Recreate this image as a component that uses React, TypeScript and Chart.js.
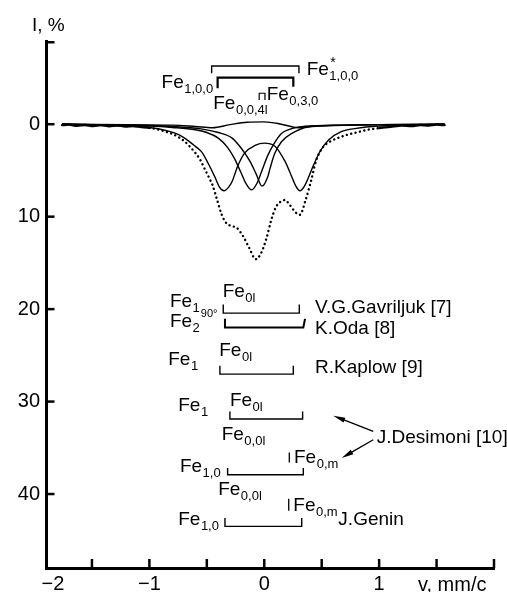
import React, { useEffect, useRef } from 'react';
import { Chart, registerables } from 'chart.js';

Chart.register(...registerables);

const FONT = '"Liberation Sans", Arial, Helvetica, sans-serif';

// Experimental spectrum (dotted): [velocity mm/c, I %]
const EXPERIMENT: [number, number][] = [
  [-1.76, 0.1], [-1.7, 0.05], [-1.63, 0.18], [-1.56, 0.08], [-1.49, 0.2], [-1.42, 0.1],
  [-1.35, 0.22], [-1.28, 0.12], [-1.21, 0.25], [-1.14, 0.2], [-1.07, 0.3], [-1.0, 0.4],
  [-0.93, 0.55], [-0.86, 0.8], [-0.8, 1.05], [-0.74, 1.45], [-0.69, 1.9], [-0.65, 2.4],
  [-0.6, 3.1], [-0.56, 3.8], [-0.52, 4.8], [-0.48, 5.8], [-0.45, 6.6], [-0.41, 8.2],
  [-0.37, 9.8], [-0.33, 10.7], [-0.29, 11.0], [-0.24, 11.2], [-0.19, 12.0], [-0.13, 13.4],
  [-0.075, 14.6], [-0.03, 14.0], [0.02, 12.3], [0.06, 10.4], [0.1, 9.0], [0.14, 8.4],
  [0.18, 8.2], [0.22, 8.7], [0.27, 9.5], [0.31, 9.8], [0.36, 8.2], [0.41, 6.0],
  [0.45, 4.0], [0.51, 2.5], [0.57, 1.9], [0.64, 1.5], [0.72, 1.15], [0.8, 0.9],
  [0.9, 0.6], [1.0, 0.42], [1.1, 0.28], [1.2, 0.15], [1.28, 0.2], [1.36, 0.08],
  [1.43, 0.15], [1.5, 0.05], [1.57, 0.1],
];

// Quadrupole doublet component
const DOUBLET_A: [number, number][] = [
  [-1.76, 0], [-1.5, 0.1], [-1.2, 0.2], [-1.0, 0.35], [-0.85, 0.7], [-0.75, 1.1],
  [-0.66, 1.8], [-0.6, 2.4], [-0.545, 3.0], [-0.49, 4.2], [-0.43, 5.7], [-0.39, 6.8],
  [-0.35, 7.2], [-0.31, 6.8], [-0.28, 6.2], [-0.23, 4.5], [-0.17, 3.1], [-0.08, 2.3],
  [0.0, 2.05], [0.09, 2.35], [0.18, 4.0], [0.24, 5.7], [0.275, 6.7], [0.31, 7.2],
  [0.35, 6.7], [0.43, 4.4], [0.485, 2.95], [0.56, 1.7], [0.67, 0.8], [0.8, 0.45],
  [1.0, 0.2], [1.3, 0.08], [1.57, 0],
];

// Singlet component B
const SINGLET_B: [number, number][] = [
  [-1.76, 0], [-1.3, 0.1], [-1.0, 0.2], [-0.8, 0.35], [-0.6, 0.6], [-0.5, 0.9],
  [-0.4, 1.5], [-0.32, 2.5], [-0.26, 3.7], [-0.2, 5.3], [-0.16, 6.4], [-0.11, 7.1],
  [-0.06, 6.3], [-0.02, 5.0], [0.03, 3.4], [0.08, 2.2], [0.15, 1.0], [0.22, 0.55],
  [0.3, 0.3], [0.45, 0.15], [0.7, 0.1], [1.0, 0.05], [1.57, 0],
];

// Singlet component C
const SINGLET_C: [number, number][] = [
  [-1.76, 0], [-1.2, 0.1], [-0.8, 0.25], [-0.55, 0.5], [-0.4, 0.9], [-0.28, 1.5],
  [-0.2, 2.6], [-0.125, 4.0], [-0.07, 5.4], [-0.02, 6.7], [0.03, 5.7], [0.05, 4.8],
  [0.09, 3.2], [0.15, 1.9], [0.24, 1.0], [0.38, 0.3], [0.6, 0.15], [1.0, 0.05], [1.57, 0],
];

// Weak broad line near the baseline
const BROAD_D: [number, number][] = [
  [-1.76, 0], [-0.8, 0.1], [-0.6, 0.25], [-0.45, 0.38], [-0.3, 0.05], [-0.15, -0.22],
  [0.0, -0.25], [0.12, -0.08], [0.25, 0.3], [0.3, 0.38], [0.4, 0.25], [0.6, 0.1], [1.57, 0],
];

const X_TICK_MARKS = [-1.5, -1, -0.5, 0, 0.5, 1, 1.5, 2];
const X_TICK_LABELS: [number, string][] = [[-1.84, '\u22122'], [-1, '\u22121'], [0, '0'], [1, '1']];
const Y_TICK_MARKS = [-9, 0, 10, 20, 30, 40];
const Y_TICK_LABELS = [0, 10, 20, 30, 40];

// Annotation labels: Fe with subscripts, placed in data coordinates (v, I)
const FE_LABELS = [
  { v: -0.894, i: -3.95, sub: '1,0,0' },
  { v: 0.369, i: -5.33, sub: '1,0,0', sup: '*' },
  { v: -0.444, i: -1.65, sub: '0,0,4l' },
  { v: 0.021, i: -2.57, sub: '0,3,0' },
  { v: -0.821, i: 19.72, sub: '1', subsub: '90°' },
  { v: -0.362, i: 18.64, sub: '0l' },
  { v: -0.821, i: 21.88, sub: '2' },
  { v: -0.392, i: 25.12, sub: '0l' },
  { v: -0.836, i: 26.02, sub: '1' },
  { v: -0.749, i: 31.0, sub: '1' },
  { v: -0.299, i: 30.45, sub: '0l' },
  { v: -0.371, i: 34.13, sub: '0,0l' },
  { v: -0.734, i: 37.66, sub: '1,0' },
  { v: 0.259, i: 36.65, sub: '0,m' },
  { v: -0.401, i: 40.08, sub: '0,0l' },
  { v: 0.253, i: 41.88, sub: '0,m' },
  { v: -0.749, i: 43.32, sub: '1,0' },
];

const REF_LABELS = [
  { v: 0.442, i: 20.43, text: 'V.G.Gavriljuk [7]' },
  { v: 0.442, i: 22.7, text: 'K.Oda [8]' },
  { v: 0.442, i: 26.92, text: 'R.Kaplow [9]' },
  { v: 0.979, i: 34.49, text: 'J.Desimoni [10]' },
  { v: 0.645, i: 43.32, text: 'J.Genin' },
];

const BRACKETS = [
  { from: -0.458, to: 0.302, at: -6.3, ends: [-5.5, -5.5], w: 1.4 },
  { from: -0.406, to: 0.253, at: -5.04, ends: [-3.9, -4.06], w: 2.2 },
  { from: -0.044, to: 0.006, at: -3.35, ends: [-2.63, -2.63], w: 1.2 },
  { from: -0.357, to: 0.305, at: 20.43, ends: [19.5, 19.5], w: 1.4 },
  { from: -0.342, to: 0.34, at: 21.99, ends: [21.05, 21.05], w: 2, toTop: 0.355 },
  { from: -0.386, to: 0.253, at: 27.03, ends: [26.13, 26.13], w: 1.4 },
  { from: -0.299, to: 0.334, at: 31.89, ends: [31.07, 31.07], w: 1.4 },
  { from: -0.319, to: 0.34, at: 37.91, ends: [37.19, 37.19], w: 1.4 },
  { from: -0.342, to: 0.326, at: 43.5, ends: [42.6, 42.6], w: 1.4 },
];

const BARS = [
  { v: 0.218, from: 35.5, to: 36.6 },
  { v: 0.213, from: 40.5, to: 41.8 },
];

const ARROWS = [
  { v0: 0.949, i0: 33.23, v1: 0.601, i1: 31.54 },
  { v0: 0.949, i0: 34.13, v1: 0.674, i1: 36.1 },
];

const toPoints = (arr: [number, number][]) => arr.map(([x, y]) => ({ x, y }));

const decorations = {
  id: 'decorations',
  afterDraw(chart: any) {
    const { ctx, chartArea } = chart;
    const xs = chart.scales.x;
    const ys = chart.scales.y;
    const X = (v: number) => xs.getPixelForValue(v);
    const Y = (i: number) => ys.getPixelForValue(i);
    ctx.save();
    ctx.strokeStyle = '#000';
    ctx.fillStyle = '#000';
    ctx.lineCap = 'butt';

    // inward tick marks
    ctx.lineWidth = 2.5;
    X_TICK_MARKS.forEach((v) => {
      const px = X(v);
      ctx.beginPath();
      ctx.moveTo(px, chartArea.bottom);
      ctx.lineTo(px, chartArea.bottom - 9);
      ctx.stroke();
    });
    Y_TICK_MARKS.forEach((i) => {
      const py = Y(i) + (i === -9 ? 1.25 : 0);
      ctx.beginPath();
      ctx.moveTo(chartArea.left, py);
      ctx.lineTo(chartArea.left + 8.5, py);
      ctx.stroke();
    });

    // axis titles
    ctx.textBaseline = 'alphabetic';
    ctx.textAlign = 'left';
    ctx.font = `19px ${FONT}`;
    ctx.fillText('I, %', chartArea.left - 14, chartArea.top - 10);
    ctx.font = `20px ${FONT}`;
    ctx.fillText('v, mm/c', X(1.338), chartArea.bottom + 23);

    // brackets
    BRACKETS.forEach((b) => {
      ctx.lineWidth = b.w;
      ctx.beginPath();
      ctx.moveTo(X(b.from), Y(b.ends[0]));
      ctx.lineTo(X(b.from), Y(b.at));
      ctx.lineTo(X(b.to), Y(b.at));
      ctx.lineTo(X(b.toTop ?? b.to), Y(b.ends[1]));
      ctx.stroke();
    });
    ctx.lineWidth = 1.3;
    BARS.forEach((b) => {
      ctx.beginPath();
      ctx.moveTo(X(b.v), Y(b.from));
      ctx.lineTo(X(b.v), Y(b.to));
      ctx.stroke();
    });

    // arrows
    ARROWS.forEach((a) => {
      const x0 = X(a.v0), y0 = Y(a.i0), x1 = X(a.v1), y1 = Y(a.i1);
      const ang = Math.atan2(y1 - y0, x1 - x0);
      const len = 12, half = 2.6;
      ctx.lineWidth = 1.4;
      ctx.beginPath();
      ctx.moveTo(x0, y0);
      ctx.lineTo(x1 - Math.cos(ang) * len * 0.6, y1 - Math.sin(ang) * len * 0.6);
      ctx.stroke();
      const bx = x1 - Math.cos(ang) * len, by = y1 - Math.sin(ang) * len;
      ctx.beginPath();
      ctx.moveTo(x1, y1);
      ctx.lineTo(bx - Math.sin(ang) * half, by + Math.cos(ang) * half);
      ctx.lineTo(bx + Math.sin(ang) * half, by - Math.cos(ang) * half);
      ctx.closePath();
      ctx.fill();
    });

    // Fe labels
    FE_LABELS.forEach((l: any) => {
      const x = X(l.v), y = Y(l.i);
      ctx.font = `19px ${FONT}`;
      ctx.fillText('Fe', x, y);
      const cx = x + ctx.measureText('Fe').width + 0.5;
      if (l.sup) {
        ctx.font = `14px ${FONT}`;
        ctx.fillText(l.sup, cx + 1, y - 8);
      }
      ctx.font = `13px ${FONT}`;
      ctx.fillText(l.sub, cx, y + 5);
      if (l.subsub) {
        const cx2 = cx + ctx.measureText(l.sub).width + 1;
        ctx.font = `11px ${FONT}`;
        ctx.fillText(l.subsub, cx2, y + 10);
      }
    });

    // reference labels
    ctx.font = `19px ${FONT}`;
    REF_LABELS.forEach((r) => {
      ctx.fillText(r.text, X(r.v), Y(r.i));
    });
    ctx.restore();
  },
};

export default function App() {
  const ref = useRef<HTMLCanvasElement>(null);
  useEffect(() => {
    const canvas = ref.current;
    if (!canvas) return;
    Chart.defaults.font.family = FONT;
    Chart.defaults.color = '#000';
    const solid = (arr: [number, number][]) => ({
      data: toPoints(arr),
      borderColor: '#000',
      borderWidth: 1.4,
      pointRadius: 0,
      cubicInterpolationMode: 'monotone' as const,
      fill: false,
    });
    const chart = new Chart(canvas, {
      type: 'line',
      data: {
        datasets: [
          {
            data: toPoints(EXPERIMENT),
            borderColor: '#000',
            borderWidth: 2.4,
            borderCapStyle: 'round',
            borderDash: [0.1, 4.4],
            pointRadius: 0,
            cubicInterpolationMode: 'monotone',
            fill: false,
            segment: {
              borderDash: (c: any) =>
                Math.abs(c.p0.parsed.y) < 0.45 && Math.abs(c.p1.parsed.y) < 0.45 ? [] : [0.1, 4.4],
            },
          } as any,
          solid(DOUBLET_A),
          solid(SINGLET_B),
          solid(SINGLET_C),
          solid(BROAD_D),
        ],
      },
      options: {
        animation: false,
        responsive: false,
        maintainAspectRatio: false,
        events: [],
        layout: { padding: { top: 41, right: 13, left: 0, bottom: 0 }, autoPadding: false } as any,
        plugins: { legend: { display: false }, tooltip: { enabled: false } },
        scales: {
          x: {
            type: 'linear',
            min: -1.9,
            max: 2,
            afterBuildTicks: (s: any) => {
              s.ticks = X_TICK_LABELS.map(([v]) => ({ value: v }));
            },
            afterFit: (s: any) => {
              s.height = 24;
            },
            grid: { display: false, drawTicks: false },
            border: { display: true, color: '#000', width: 3 },
            ticks: {
              autoSkip: false,
              maxRotation: 0,
              padding: 4,
              color: '#000',
              font: { size: 20, family: FONT },
              callback: (v: any) => {
                const f = X_TICK_LABELS.find(([val]) => Math.abs(val - v) < 1e-6);
                return f ? f[1] : '';
              },
            },
          },
          y: {
            type: 'linear',
            min: -9,
            max: 48,
            reverse: true,
            afterBuildTicks: (s: any) => {
              s.ticks = Y_TICK_LABELS.map((v) => ({ value: v }));
            },
            afterFit: (s: any) => {
              s.width = 46;
            },
            grid: { display: false, drawTicks: false },
            border: { display: true, color: '#000', width: 3 },
            ticks: {
              autoSkip: false,
              padding: 6,
              color: '#000',
              font: { size: 20, family: FONT },
              callback: (v: any) => String(v),
            },
          },
        },
      },
      plugins: [decorations],
    });
    return () => chart.destroy();
  }, []);
  return (
    <div style={{ position: 'fixed', left: 0, top: 0, width: 507, height: 592, background: '#fff' }}>
      <canvas ref={ref} width={507} height={592} style={{ display: 'block', width: 507, height: 592 }} />
    </div>
  );
}
